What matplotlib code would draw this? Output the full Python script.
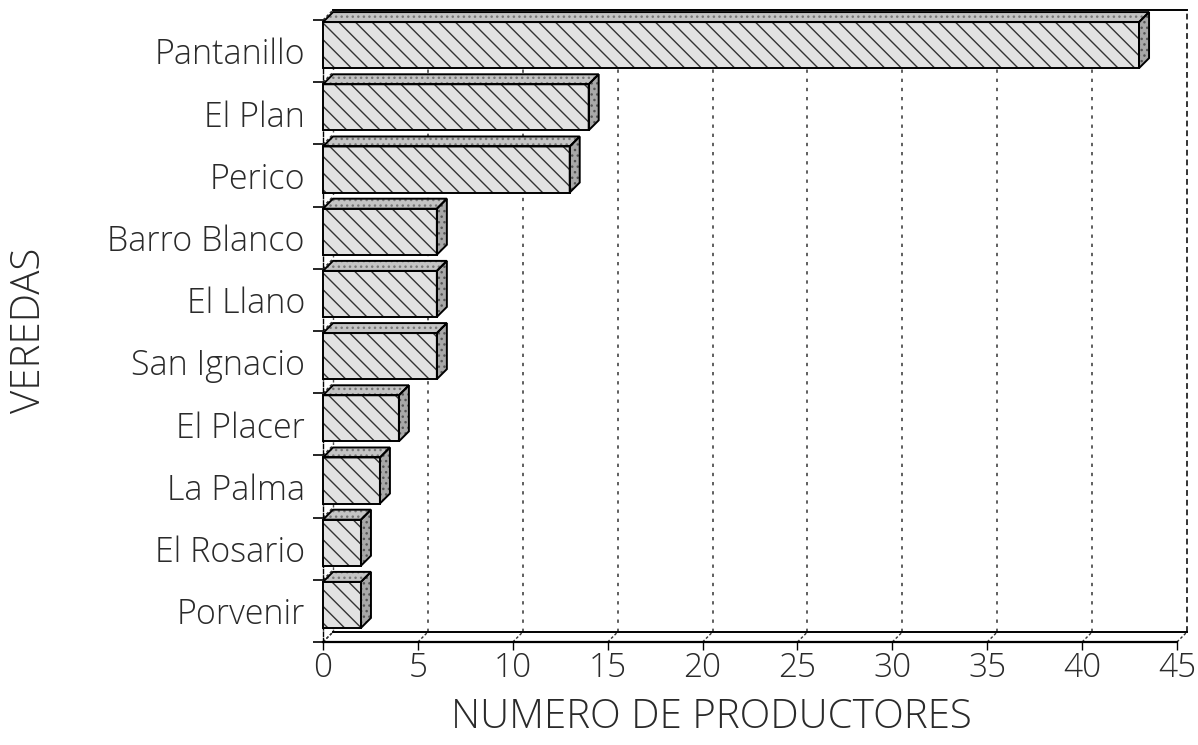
import numpy as np
import matplotlib
matplotlib.use("Agg")
import matplotlib.pyplot as plt
from matplotlib.patches import Polygon

# Productores por vereda
veredas = ['Pantanillo', 'El Plan', 'Perico', 'Barro Blanco', 'El Llano',
           'San Ignacio', 'El Placer', 'La Palma', 'El Rosario', 'Porvenir']
productores = [43, 14, 13, 6, 6, 6, 4, 3, 2, 2]
xticks = list(range(0, 46, 5))

# figure layout in pixels
FIG_W, FIG_H = 1198, 745
AX_LEFT, AX_RIGHT = 323, 1177
AX_TOP, AX_BOTTOM = 20, 642
DEPTH = 10      # px offset of the back wall
LIFT = 6        # px the bar face sits above the category centre
XMAX = 45
n = len(veredas)

# depth offsets expressed in data units
dx = DEPTH * XMAX / (AX_RIGHT - AX_LEFT)
dy = DEPTH * n / (AX_BOTTOM - AX_TOP)
lift = LIFT * n / (AX_BOTTOM - AX_TOP)
bar_h = 0.74

plt.rcParams['font.family'] = ['Open Sans', 'DejaVu Sans']
plt.rcParams['font.weight'] = 'light'
plt.rcParams['hatch.linewidth'] = 1.0
TEXT_COLOR = '#2a2a2a'

fig = plt.figure(figsize=(FIG_W / 100, FIG_H / 100), dpi=100)
ax = fig.add_axes([AX_LEFT / FIG_W, 1 - AX_BOTTOM / FIG_H,
                   (AX_RIGHT - AX_LEFT) / FIG_W, (AX_BOTTOM - AX_TOP) / FIG_H])
ax.set_xlim(0, XMAX)
ax.set_ylim(n - 0.5, -0.5)

floor = n - 0.5
ceil = -0.5
grid_style = dict(color='#444444', lw=1.2, ls=(0, (2, 3.5)), clip_on=False)
line_style = dict(color='black', lw=1.4, clip_on=False)

# back wall: grid, frame
for x in xticks[1:-1]:
    ax.plot([x + dx, x + dx], [floor - dy, ceil - dy], **grid_style)
ax.plot([XMAX + dx, XMAX + dx], [floor - dy, ceil - dy], color='#333333',
        lw=1.4, ls=(0, (3, 2)), clip_on=False)
ax.plot([dx, dx], [floor - dy, ceil - dy], color='#555555', lw=1.0,
        ls=(0, (2, 3)), clip_on=False)
ax.plot([dx, XMAX + dx], [ceil - dy, ceil - dy], **line_style)
ax.plot([dx, XMAX + dx], [floor - dy, floor - dy], **line_style)

# floor and left wall connectors
for x in xticks:
    ax.plot([x, x + dx], [floor, floor - dy], color='#333333', lw=1.0,
            ls=(0, (2, 1.5)), clip_on=False)
for b in np.arange(n + 1) - 0.5:
    ax.plot([0, dx], [b, b - dy], color='#333333', lw=1.0,
            ls=(0, (2, 1.5)), clip_on=False)

# 3D bars
for i, v in enumerate(productores):
    y0 = i - lift + bar_h / 2
    y1 = i - lift - bar_h / 2
    front = [(0, y0), (v, y0), (v, y1), (0, y1)]
    top = [(0, y1), (v, y1), (v + dx, y1 - dy), (dx, y1 - dy)]
    side = [(v, y0), (v + dx, y0 - dy), (v + dx, y1 - dy), (v, y1)]
    faces = [(front, '#e2e2e2', '\\\\', '#333333'),
             (top, '#c4c4c4', '...', '#777777'),
             (side, '#a8a8a8', '...', '#555555')]
    for pts, fc, hatch, hc in faces:
        ax.add_patch(Polygon(pts, closed=True, facecolor=fc, edgecolor=hc,
                             hatch=hatch, lw=0, clip_on=False, zorder=3))
        ax.add_patch(Polygon(pts, closed=True, fill=False, edgecolor='black',
                             lw=1.4, clip_on=False, zorder=4))

# axes, ticks and labels
for side in ['top', 'right']:
    ax.spines[side].set_visible(False)
ax.spines['bottom'].set_linewidth(1.6)
ax.spines['left'].set_linewidth(1.0)
ax.spines['left'].set_linestyle((0, (3, 1.5)))

ax.set_xticks(xticks)
ax.tick_params(axis='x', length=6, width=1, pad=1, labelsize=24,
               labelcolor=TEXT_COLOR)
ax.set_yticks(range(n), veredas)
ax.set_yticks(np.arange(n + 1) - 0.5, minor=True)
ax.tick_params(axis='y', which='major', length=0, pad=13, labelsize=24.5,
               labelcolor=TEXT_COLOR)
ax.tick_params(axis='y', which='minor', length=7, width=1.2)

fig.text(711 / FIG_W, 1 - 718 / FIG_H, 'NUMERO DE PRODUCTORES',
         ha='center', va='center', fontsize=29, color=TEXT_COLOR)
fig.text(29 / FIG_W, 1 - 330 / FIG_H, 'VEREDAS', rotation=90,
         ha='center', va='center', fontsize=29, color=TEXT_COLOR)

fig.savefig('out.png', dpi=100, facecolor='white')
